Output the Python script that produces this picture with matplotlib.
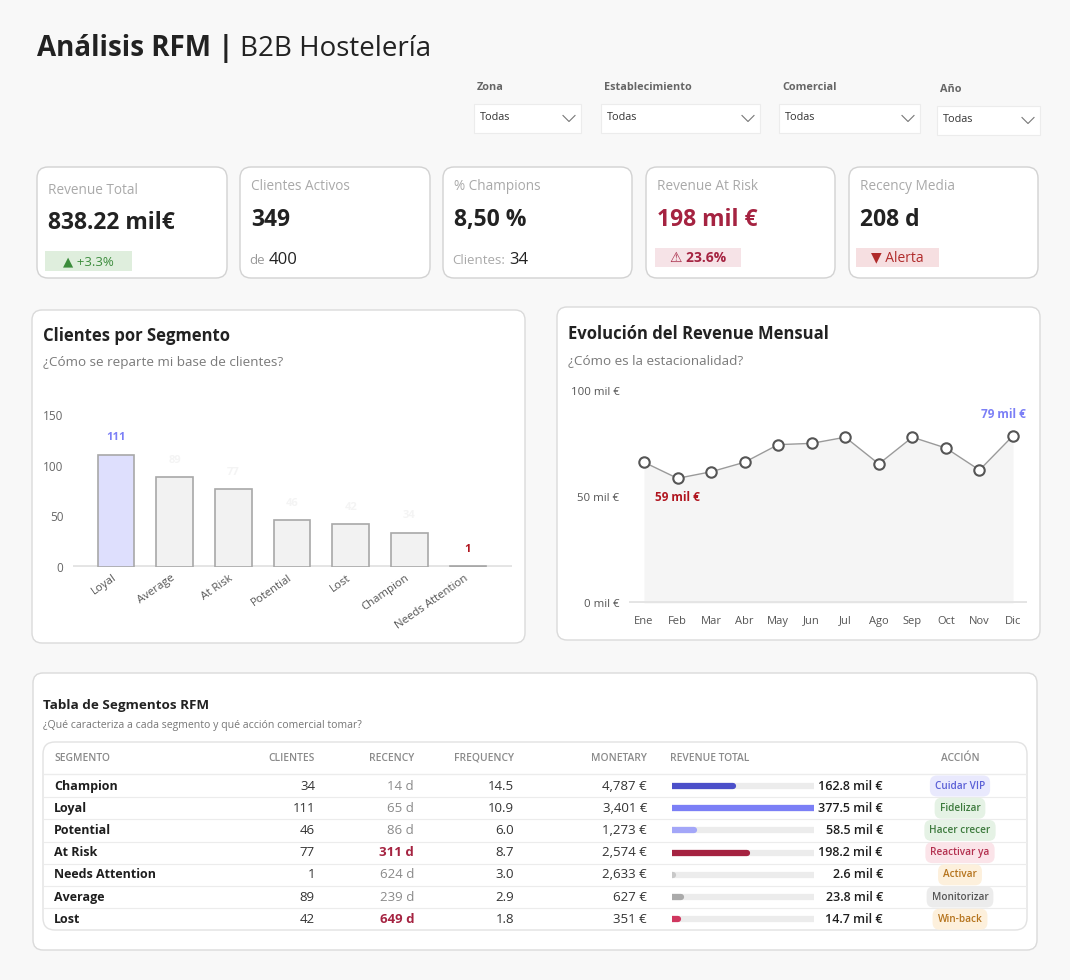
import matplotlib
matplotlib.use('Agg')
import matplotlib.pyplot as plt
from matplotlib.patches import FancyBboxPatch, Rectangle
from matplotlib.transforms import ScaledTranslation
import numpy as np

plt.rcParams['font.family'] = ['Open Sans', 'DejaVu Sans']

# ---------------- data ----------------
title_bold = 'Análisis RFM |'
title_regular = 'B2B Hostelería'

filter_labels = ['Zona', 'Establecimiento', 'Comercial', 'Año']
filter_values = ['Todas', 'Todas', 'Todas', 'Todas']

kpi_titles = ['Revenue Total', 'Clientes Activos', '% Champions', 'Revenue At Risk', 'Recency Media']
kpi_values = ['838.22 mil€', '349', '8,50 %', '198 mil €', '208 d']
kpi_badges = ['▲ +3.3%', None, None, '⚠ 23.6%', '▼ Alerta']
clientes_total = 400
champions_count = 34

segments = ['Champion', 'Loyal', 'Potential', 'At Risk', 'Needs Attention', 'Average', 'Lost']
clientes = [34, 111, 46, 77, 1, 89, 42]
recency = [14, 65, 86, 311, 624, 239, 649]
frequency = [14.5, 10.9, 6.0, 8.7, 3.0, 2.9, 1.8]
monetary = [4787, 3401, 1273, 2574, 2633, 627, 351]
revenue_total = [162.8, 377.5, 58.5, 198.2, 2.6, 23.8, 14.7]
acciones = ['Cuidar VIP', 'Fidelizar', 'Hacer crecer', 'Reactivar ya', 'Activar', 'Monitorizar', 'Win-back']
recency_alert = ['At Risk', 'Lost']

months = ['Ene', 'Feb', 'Mar', 'Abr', 'May', 'Jun', 'Jul', 'Ago', 'Sep', 'Oct', 'Nov', 'Dic']
monthly_revenue = [66.4, 58.8, 61.9, 66.4, 74.7, 75.3, 78.2, 65.6, 78.2, 73.1, 62.7, 78.9]

# ---------------- styles ----------------
BG = '#f8f8f8'
BAR_COLORS = {'Champion': '#4b4fc9', 'Loyal': '#7b7ff6', 'Potential': '#a3a6f8', 'At Risk': '#a52341',
              'Needs Attention': '#c8c8c8', 'Average': '#aaaaaa', 'Lost': '#d0375f'}
PILL_STYLE = {'Cuidar VIP': ('#e9e9fd', '#5a5fd6'), 'Fidelizar': ('#e5f2e5', '#3d7a3d'),
              'Hacer crecer': ('#e5f2e5', '#3d7a3d'), 'Reactivar ya': ('#fbe4e9', '#b3304f'),
              'Activar': ('#fdf0dc', '#b5731c'), 'Monitorizar': ('#ececec', '#555555'),
              'Win-back': ('#fdf0dc', '#b5731c')}

W, H = 1070, 980
fig = plt.figure(figsize=(W / 100, H / 100), dpi=100, facecolor=BG)
bg = fig.add_axes([0, 0, 1, 1])
bg.set_xlim(0, W)
bg.set_ylim(H, 0)
bg.axis('off')
bg.set_zorder(0)
renderer = fig.canvas.get_renderer()


def px_axes(x0, y0, x1, y1):
    a = fig.add_axes([x0 / W, 1 - y1 / H, (x1 - x0) / W, (y1 - y0) / H])
    a.set_facecolor('none')
    return a


def rbox(x0, y0, x1, y1, r=10, fc='white', ec='#d6d6d6', lw=1.0, z=1):
    p = FancyBboxPatch((x0, y0), x1 - x0, y1 - y0, boxstyle=f'round,pad=0,rounding_size={r}',
                       fc=fc, ec=ec, lw=lw, zorder=z)
    bg.add_patch(p)


def text_width(t):
    bb = t.get_window_extent(renderer=renderer)
    return bb.width


# ---------------- title ----------------
t1 = bg.text(37, 56, title_bold, fontsize=20, fontweight='bold', color='#222222', va='baseline')
bg.text(37 + text_width(t1) + 6, 56, title_regular, fontsize=20, color='#222222', va='baseline')

# ---------------- filters ----------------
filter_boxes = [(474, 104, 581, 133), (601, 104, 760, 133), (779, 104, 920, 133), (937, 106, 1040, 135)]
for lab, val, (x0, y0, x1, y1) in zip(filter_labels, filter_values, filter_boxes):
    bg.text(x0 + 3, y0 - 17, lab, fontsize=7.8, fontweight='bold', color='#666666', va='center')
    bg.add_patch(Rectangle((x0, y0), x1 - x0, y1 - y0, fc='white', ec='#ececec', lw=0.8, zorder=1))
    ym = (y0 + y1) / 2
    bg.text(x0 + 6, ym - 1, val, fontsize=7.8, color='#333333', va='center', zorder=2)
    cx = x1 - 12
    bg.plot([cx - 6, cx, cx + 6], [ym - 3, ym + 3, ym - 3], color='#777777', lw=0.8, zorder=2)

# ---------------- KPI cards ----------------
cards_x = [(37, 227), (240, 430), (443, 632), (646, 835), (849, 1038)]
for i, ((x0, x1), ttl, val) in enumerate(zip(cards_x, kpi_titles, kpi_values)):
    rbox(x0, 167, x1, 278, r=11, ec='#d2d2d2')
    ty = 190 if i == 0 else 186
    bg.text(x0 + 11, ty, ttl, fontsize=9.8, color='#a9a9a9', va='center', zorder=3)
    vcol = '#a52341' if i == 3 else '#222222'
    vy = 223 if i == 0 else 220
    bg.text(x0 + 11, vy, val, fontsize=16.5, fontweight='bold', color=vcol, va='center', zorder=3)

# card 1 badge
bg.add_patch(Rectangle((45, 251), 87, 20, fc='#dfeedd', ec='none', zorder=2))
bg.text(88.5, 261.5, kpi_badges[0], fontsize=9.5, color='#3c8c3c', ha='center', va='center', zorder=3)
# card 2 sub
s1 = bg.text(249, 264, 'de', fontsize=9.5, color='#9a9a9a', va='baseline', zorder=3)
bg.text(249 + text_width(s1) + 4, 264, f'{clientes_total}', fontsize=12, color='#222222', va='baseline', zorder=3)
# card 3 sub
s2 = bg.text(452, 264, 'Clientes:', fontsize=9.5, color='#a9a9a9', va='baseline', zorder=3)
bg.text(452 + text_width(s2) + 4, 264, f'{champions_count}', fontsize=12, color='#222222', va='baseline', zorder=3)
# card 4 badge
bg.add_patch(Rectangle((655, 248), 86, 19, fc='#f6e3e7', ec='none', zorder=2))
bg.text(698, 258, kpi_badges[3], fontsize=10, fontweight='bold', color='#a52341', ha='center', va='center', zorder=3)
# card 5 badge
bg.add_patch(Rectangle((856, 248), 83, 19, fc='#f6dfe1', ec='none', zorder=2))
bg.text(897.5, 258, kpi_badges[4], fontsize=10, color='#b02a2a', ha='center', va='center', zorder=3)

# ---------------- panels ----------------
rbox(32, 310, 525, 643, r=10, ec='#dadada')
bg.text(43, 336, 'Clientes por Segmento', fontsize=12, fontweight='bold', color='#222222', va='center', zorder=3)
bg.text(43, 362, '¿Cómo se reparte mi base de clientes?', fontsize=9.7, color='#7a7a7a', va='center', zorder=3)

rbox(557, 307, 1040, 640, r=10, ec='#dadada')
bg.text(568, 334, 'Evolución del Revenue Mensual', fontsize=12, fontweight='bold', color='#222222', va='center', zorder=3)
bg.text(568, 361, '¿Cómo es la estacionalidad?', fontsize=9.7, color='#7a7a7a', va='center', zorder=3)

# ---------------- bar chart ----------------
order = np.argsort(clientes)[::-1]
bar_names = [segments[i] for i in order]
bar_vals = [clientes[i] for i in order]
axb = px_axes(73, 567 - 165 * 152 / 150, 512, 567)
xb = np.arange(len(bar_vals))
top_name = bar_names[0]
bar_fc = ['#dedffd' if n == top_name else '#f2f2f2' for n in bar_names]
axb.bar(xb, bar_vals, width=0.63, color=bar_fc, edgecolor='#a8a8a8', linewidth=1.2, zorder=3)
axb.axhline(0, color='#e4e4e4', lw=3.5, zorder=2)
axb.set_xlim(-0.733, 6.75)
axb.set_ylim(0, 165)
axb.set_yticks([0, 50, 100, 150])
axb.set_yticklabels(['0', '50', '100', '150'])
axb.set_xticks(xb)
axb.set_xticklabels(bar_names, rotation=35, ha='right', rotation_mode='anchor')
axb.tick_params(axis='y', length=0, pad=7, labelsize=8.5, labelcolor='#666666')
axb.tick_params(axis='x', length=0, pad=4, labelsize=8.2, labelcolor='#555555')
for lbl in axb.get_xticklabels():
    lbl.set_transform(lbl.get_transform() + ScaledTranslation(-3 / 72, 0, fig.dpi_scale_trans))
for s in axb.spines.values():
    s.set_visible(False)
for xi, v, n in zip(xb, bar_vals, bar_names):
    if n == top_name:
        col = '#7b7ff6'
    elif v == min(bar_vals):
        col = '#b0151f'
    else:
        col = '#f4f4f4'
    axb.annotate(f'{v}', (xi, v), xytext=(0, 12), textcoords='offset points', ha='center', va='center',
                 fontsize=8, fontweight='bold', color=col, zorder=4)

# ---------------- line chart ----------------
axl = px_axes(629, 603 - 105 * 2.12, 1027, 603)
xm = np.arange(len(months))
axl.fill_between(xm, monthly_revenue, 0, color='#f5f5f5', lw=0, zorder=1)
axl.plot(xm, monthly_revenue, color='#9a9a9a', lw=1.0, marker='o', ms=7.5, mfc='white', mec='#555555',
         mew=1.5, zorder=3, clip_on=False)
axl.axhline(0, color='#e4e4e4', lw=3.5, zorder=2)
axl.set_xlim(-0.447, 11.417)
axl.set_ylim(0, 105)
axl.set_yticks([0, 50, 100])
axl.set_yticklabels([f'{v} mil €' for v in [0, 50, 100]])
axl.set_xticks(xm)
axl.set_xticklabels(months)
axl.tick_params(axis='y', length=0, pad=7, labelsize=8.2, labelcolor='#555555')
axl.tick_params(axis='x', length=0, pad=9, labelsize=8, labelcolor='#555555')
for s in axl.spines.values():
    s.set_visible(False)
imin = int(np.argmin(monthly_revenue))
imax = int(np.argmax(monthly_revenue))
axl.annotate(f'{monthly_revenue[imin]:.0f} mil €', (xm[imin], monthly_revenue[imin]), xytext=(0, -14),
             textcoords='offset points', ha='center', va='center', fontsize=8.5, fontweight='bold', color='#b0151f')
axl.annotate(f'{monthly_revenue[imax]:.0f} mil €', (xm[imax], monthly_revenue[imax]), xytext=(-7, 15),
             textcoords='offset points', ha='center', va='center', fontsize=8.5, fontweight='bold', color='#7b7ff6')

# ---------------- table ----------------
rbox(33, 673, 1037, 950, r=10, ec='#dadada')
bg.text(43, 705, 'Tabla de Segmentos RFM', fontsize=9.7, fontweight='bold', color='#222222', va='center', zorder=3)
bg.text(43, 725, '¿Qué caracteriza a cada segmento y qué acción comercial tomar?', fontsize=7.6,
        color='#777777', va='center', zorder=3)
rbox(43, 742, 1027, 930, r=12, ec='#e2e2e2', z=2)

hy = 758
hdr_kw = dict(fontsize=7.4, fontweight='semibold', color='#8a8a8a', va='center', zorder=3)
bg.text(54, hy, 'SEGMENTO', ha='left', **hdr_kw)
bg.text(315, hy, 'CLIENTES', ha='right', **hdr_kw)
bg.text(414, hy, 'RECENCY', ha='right', **hdr_kw)
bg.text(514, hy, 'FREQUENCY', ha='right', **hdr_kw)
bg.text(647, hy, 'MONETARY', ha='right', **hdr_kw)
bg.text(670, hy, 'REVENUE TOTAL', ha='left', **hdr_kw)
bg.text(960, hy, 'ACCIÓN', ha='center', **hdr_kw)

row0, dy = 786, 22.2
bg.plot([44, 1026], [773.5, 773.5], color='#ececec', lw=1, zorder=3)
for i in range(len(segments)):
    y = row0 + i * dy
    if i < len(segments) - 1:
        bg.plot([44, 1026], [y + dy / 2, y + dy / 2], color='#ececec', lw=0.8, zorder=3)
    bg.text(54, y, segments[i], fontsize=9, fontweight='bold', color='#1e1e1e', va='center', zorder=3)
    bg.text(315, y, f'{clientes[i]}', fontsize=9.5, color='#333333', ha='right', va='center', zorder=3)
    if segments[i] in recency_alert:
        bg.text(414, y, f'{recency[i]} d', fontsize=9.5, fontweight='bold', color='#a52341', ha='right',
                va='center', zorder=3)
    else:
        bg.text(414, y, f'{recency[i]} d', fontsize=9.5, color='#8a8a8a', ha='right', va='center', zorder=3)
    bg.text(514, y, f'{frequency[i]:.1f}', fontsize=9.5, color='#333333', ha='right', va='center', zorder=3)
    bg.text(647, y, f'{monetary[i]:,} €', fontsize=9.5, color='#333333', ha='right', va='center', zorder=3)
    bg.text(883, y, f'{revenue_total[i]:.1f} mil €', fontsize=9, fontweight='semibold', color='#1e1e1e',
            ha='right', va='center', zorder=3)
    fc, tc = PILL_STYLE[acciones[i]]
    bg.text(960, y, acciones[i], fontsize=7.2, fontweight='semibold', color=tc, ha='center', va='center', zorder=4,
            bbox=dict(boxstyle='round,pad=0.5,rounding_size=0.7', fc=fc, ec='none'))

# revenue bars in table
axr = px_axes(672, row0 - dy / 2, 814, row0 + (len(segments) - 0.5) * dy)
axr.axis('off')
rows = np.arange(len(segments))
rmax = max(revenue_total)
axr.hlines(rows, 0, rmax, colors='#ececec', lw=4.5, capstyle='round', zorder=1)
axr.hlines(rows, 0, revenue_total, colors=[BAR_COLORS[s] for s in segments], lw=4.5, capstyle='round', zorder=2)
axr.set_xlim(0, rmax)
axr.set_ylim(len(segments) - 0.5, -0.5)

fig.savefig('out.png', dpi=100, facecolor=BG)
